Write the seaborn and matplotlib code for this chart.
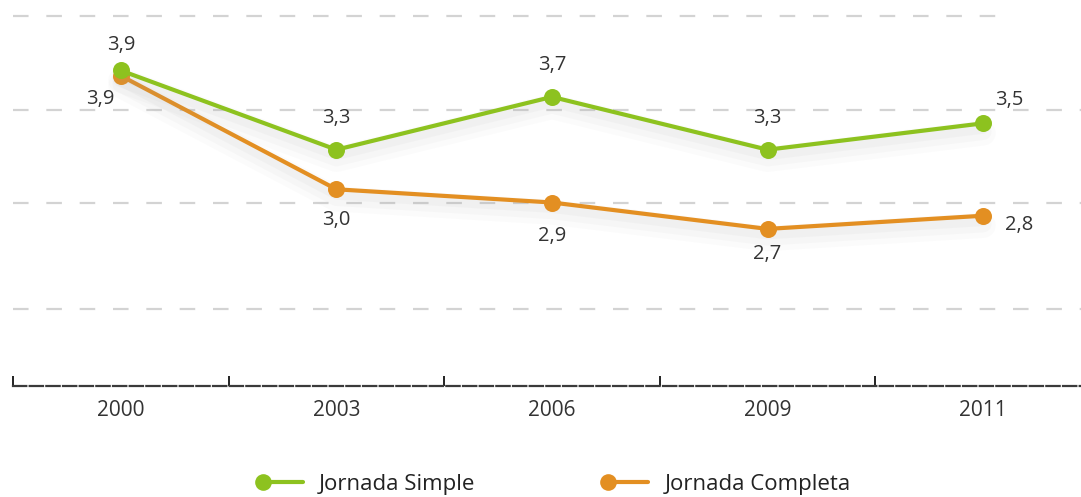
import numpy as np
import pandas as pd
import seaborn as sns
import matplotlib.pyplot as plt
import matplotlib.patheffects as pe
from matplotlib.lines import Line2D
from matplotlib.legend_handler import HandlerLine2D

# data
years = ["2000", "2003", "2006", "2009", "2011"]
simple = [3.9, 3.3, 3.7, 3.3, 3.5]
completa = [3.86, 3.0, 2.9, 2.7, 2.8]
simple_labels = ["3,9", "3,3", "3,7", "3,3", "3,5"]
completa_labels = ["3,9", "3,0", "2,9", "2,7", "2,8"]
grid_levels = [4.31, 3.6, 2.9, 2.09]

green = "#8dc21f"
orange = "#e38f22"
text_col = "#333333"

sns.set_theme(style="white")
plt.rcParams['font.family'] = ['Open Sans', 'DejaVu Sans']

df = pd.DataFrame({"pos": np.arange(len(years)), "simple": simple, "completa": completa})

fig = plt.figure(figsize=(10.81, 4.97), dpi=100)
ax = fig.add_axes([13 / 1081, 111 / 497, 1078 / 1081, 386 / 497])
ax.set_xlim(-0.5, 4.5)
ax.set_ylim(1.51, 4.434)

#gridlines (top one is a bit shorter)
for i, g in enumerate(grid_levels):
    xmax = 0.925 if i == 0 else 1.0
    ax.axhline(g, xmin=0, xmax=xmax, color="#d3d3d3", lw=1.6,
               dashes=(7, 8), zorder=0)

#soft shadow under the lines
shadow = [pe.SimpleLineShadow(offset=(0, -7), shadow_color="#a0a0a0", alpha=0.04, linewidth=18),
          pe.SimpleLineShadow(offset=(0, -6), shadow_color="#a0a0a0", alpha=0.05, linewidth=12),
          pe.SimpleLineShadow(offset=(0, -4), shadow_color="#a0a0a0", alpha=0.06, linewidth=7),
          pe.Normal()]

for col, c, z in [("completa", orange, 3), ("simple", green, 4)]:
    sns.lineplot(data=df, x="pos", y=col, ax=ax, color=c, lw=3, zorder=z,
                 path_effects=shadow)
    sns.scatterplot(data=df, x="pos", y=col, ax=ax, color=c, s=150,
                    linewidth=0, zorder=z + 0.5)

#value labels
s_off = [(0, 18), (0, 23), (0, 23), (0, 23), (19, 17)]
c_off = [(-15, -17), (0, -22), (0, -24), (0, -18), (26, -7)]
for i in range(len(years)):
    ax.annotate(simple_labels[i], (i, simple[i]), xytext=s_off[i], textcoords="offset points",
                ha="center", va="center", fontsize=14.5, color=text_col)
    ax.annotate(completa_labels[i], (i, completa[i]), xytext=c_off[i], textcoords="offset points",
                ha="center", va="center", fontsize=14.5, color=text_col)

#axes styling
for s in ["top", "right", "left"]:
    ax.spines[s].set_visible(False)
ax.spines["bottom"].set_color("#3a3a3a")
ax.spines["bottom"].set_linewidth(1.6)
ax.spines["bottom"].set_linestyle((0, (6, 1.5)))
ax.set_yticks([])
ax.set_xticks(np.arange(-0.5, 5, 1))
ax.set_xticklabels([])
ax.tick_params(axis="x", which="major", direction="in", length=7, width=1.4,
               color="#222222", bottom=True)
ax.set_xticks(np.arange(len(years)), minor=True)
ax.set_xticklabels(years, minor=True, fontsize=15, color=text_col)
ax.tick_params(axis="x", which="minor", length=0, pad=10)
ax.set_xlabel("")
ax.set_ylabel("")


class LeftMarkerHandler(HandlerLine2D):
    def create_artists(self, legend, orig_handle, xdescent, ydescent, width, height, fontsize, trans):
        artists = super().create_artists(legend, orig_handle, xdescent, ydescent,
                                         width, height, fontsize, trans)
        artists[0].set_markevery([0])
        return artists


handles = [Line2D([], [], color=green, lw=3, marker="o", markersize=12, markeredgewidth=0),
           Line2D([], [], color=orange, lw=3, marker="o", markersize=12, markeredgewidth=0)]
leg = fig.legend(handles, ["Jornada Simple", "Jornada Completa"], loc="center",
                 bbox_to_anchor=(0.515, 0.025), ncol=2, frameon=False, fontsize=16,
                 handlelength=1.8, handletextpad=0.72, columnspacing=6.0,
                 handler_map={Line2D: LeftMarkerHandler(numpoints=1)})
for t in leg.get_texts():
    t.set_color("#222222")

fig.savefig("out.png", dpi=100)
